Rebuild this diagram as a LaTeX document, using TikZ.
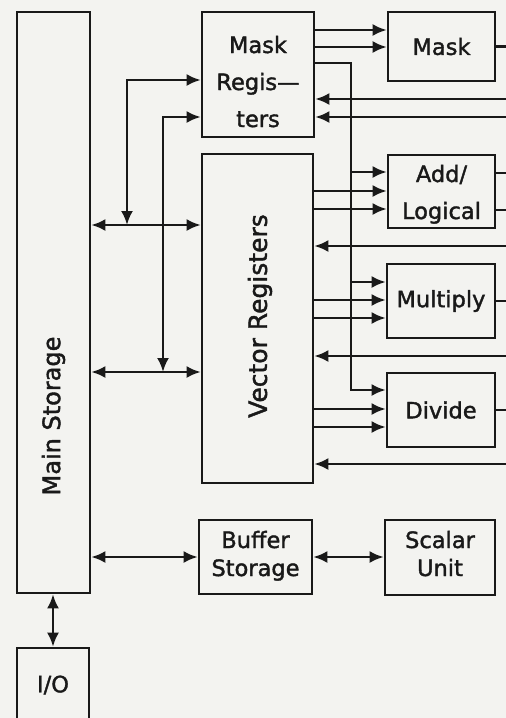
\documentclass[tikz,border=0pt]{standalone}
\usepackage{fontspec}
\setmainfont{DejaVu Sans}[BoldFont={DejaVu Sans}, BoldFeatures={FakeBold=1.6}]
\usetikzlibrary{arrows.meta}
\definecolor{bg}{RGB}{243,243,240}
\definecolor{ink}{RGB}{25,25,25}
\begin{document}
\begin{tikzpicture}[x=1pt,y=-1pt,
  box/.style={draw=ink, line width=2.6pt, rectangle, inner sep=0pt, font=\fontsize{22.5}{37}\selectfont\bfseries, text=ink, align=center},
  lbl/.style={inner sep=0pt, font=\fontsize{22.5}{28}\selectfont\bfseries, text=ink},
  wire/.style={draw=ink, line width=2.6pt},
  arr/.style={wire, -{Latex[length=14pt,width=12pt]}},
  dbl/.style={wire, {Latex[length=14pt,width=12pt]}-{Latex[length=14pt,width=12pt]}},
]
\fill[bg] (0,0) rectangle (506,718);
\useasboundingbox (0,0) rectangle (506,718);
\clip (0,0) rectangle (506,718);

% boxes
\node[box, minimum width=73pt, minimum height=581pt] (ms) at (53.5,302.5) {};
\node[lbl, rotate=90, font=\fontsize{24}{28}\selectfont\bfseries] (mst) at (53.5,416) {Main Storage};
\node[box, minimum width=72pt, minimum height=74pt] (io) at (53,685) {I/O};
\node[box, minimum width=112pt, minimum height=125pt] (mr) at (258,74.5) {};
\node[lbl, anchor=base] (mr1) at (258,53) {Mask};
\node[lbl, anchor=base] (mr2) at (258,90) {Regis—};
\node[lbl, anchor=base] (mr3) at (258,127) {ters};
\node[box, minimum width=107pt, minimum height=69pt] (mask) at (441.5,46.5) {Mask};
\node[box, minimum width=111pt, minimum height=329pt] (vr) at (257.5,318.5) {};
\node[lbl, rotate=90, font=\fontsize{25}{28}\selectfont\bfseries] (vrt) at (260,316) {Vector Registers};
\node[box, minimum width=107pt, minimum height=73pt] (add) at (441.5,191.5) {};
\node[lbl, anchor=base] (add1) at (441.5,182) {Add/};
\node[lbl, anchor=base] (add2) at (441.5,219) {Logical};
\node[box, minimum width=108pt, minimum height=74pt] (mul) at (441,301) {Multiply};
\node[box, minimum width=108pt, minimum height=74pt] (div) at (441,410) {Divide};
\node[box, minimum width=113pt, minimum height=74pt] (buf) at (255.5,557) {};
\node[lbl, anchor=base] (buf1) at (255.5,548) {Buffer};
\node[lbl, anchor=base] (buf2) at (255.5,576) {Storage};
\node[box, minimum width=110pt, minimum height=75pt] (sca) at (440,557.5) {};
\node[lbl, anchor=base] (sca1) at (440,548) {Scalar};
\node[lbl, anchor=base] (sca2) at (440,576) {Unit};

% helper coordinates
\coordinate (xt) at (351,0);
\coordinate (xa) at (127,0);
\coordinate (xb) at (163,0);
\coordinate (xe) at (506,0);
\foreach \y in {30,47,63,80,99,117,172,173,191,209,210,225,246,282,300,318,356,372,390,409,427,464}
  {\coordinate (h\y) at (0,\y);}

% mask registers -> mask
\draw[arr] (mr.east |- h30) -- (mask.west |- h30);
\draw[arr] (mr.east |- h47) -- (mask.west |- h47);
% mask registers tap to units
\draw[arr] (mr.east |- h63) -| (xt |- h390) -- (div.west |- h390);
\draw[arr] (xt |- h172) -- (add.west |- h172);
\draw[arr] (xt |- h282) -- (mul.west |- h282);
% returns into mask registers
\draw[arr] (xe |- h99) -- (mr.east |- h99);
\draw[arr] (xe |- h117) -- (mr.east |- h117);
% vector registers -> units
\draw[arr] (vr.east |- h191) -- (add.west |- h191);
\draw[arr] (vr.east |- h209) -- (add.west |- h209);
\draw[arr] (vr.east |- h300) -- (mul.west |- h300);
\draw[arr] (vr.east |- h318) -- (mul.west |- h318);
\draw[arr] (vr.east |- h409) -- (div.west |- h409);
\draw[arr] (vr.east |- h427) -- (div.west |- h427);
% returns into vector registers
\draw[arr] (xe |- h246) -- (vr.east |- h246);
\draw[arr] (xe |- h356) -- (vr.east |- h356);
\draw[arr] (xe |- h464) -- (vr.east |- h464);
% unit outputs
\draw[wire] (mask.east) -- (xe |- mask.east);
\draw[wire] (add.east |- h173) -- (xe |- h173);
\draw[wire] (add.east |- h210) -- (xe |- h210);
\draw[wire] (mul.east) -- (xe |- mul.east);
\draw[wire] (div.east) -- (xe |- div.east);
% main storage <-> vector registers
\draw[dbl] (ms.east |- h225) -- (vr.west |- h225);
\draw[dbl] (ms.east |- h372) -- (vr.west |- h372);
\draw[dbl] (xa |- h225) -- (xa |- h80) -- (mr.west |- h80);
\draw[dbl] (xb |- h372) -- (xb |- h117) -- (mr.west |- h117);
% buffer, scalar, io
\draw[dbl] (ms.east |- buf.west) -- (buf.west);
\draw[dbl] (buf.east) -- (sca.west |- buf.east);
\draw[dbl] (io.north |- ms.south) -- (io.north);
\end{tikzpicture}
\end{document}
